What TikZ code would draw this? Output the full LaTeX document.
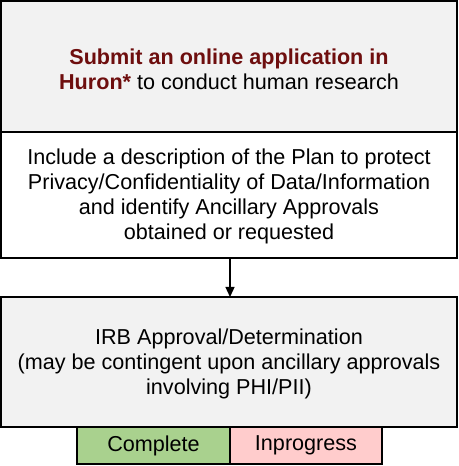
\documentclass[tikz,border=0pt]{standalone}
\usepackage{fontspec}
\setmainfont{Liberation Sans}
\usetikzlibrary{arrows.meta}
\definecolor{boxgray}{HTML}{F2F2F2}
\definecolor{darkred}{HTML}{6E0E0E}
\definecolor{okgreen}{HTML}{A9D18E}
\definecolor{wippink}{HTML}{FFCCCC}
\tikzset{
  x=1pt,y=1pt,
  panel/.style={draw=black,line width=1.2pt,inner sep=0pt},
  txt/.style={align=center,font=\fontsize{21.6}{24.8}\selectfont,inner sep=0pt},
  arr/.style={-{Triangle[length=10pt,width=9pt]},line width=1.3pt}
}
\begin{document}
\begin{tikzpicture}
\useasboundingbox (0,0) rectangle (458,466);
% boxes (y = 466 - pixel y)
\draw[panel,fill=boxgray] (1,465) rectangle (457,334);
\draw[panel,fill=white] (1,334) rectangle (457,208);
\draw[panel,fill=boxgray] (1,169) rectangle (457,39);
\draw[panel,fill=okgreen] (77,39) rectangle (230,2);
\draw[panel,fill=wippink] (230,39) rectangle (382,2);
\coordinate (b2bot) at (230,208);
\coordinate (b3top) at (230,169);
\node[txt] (t1) at (229,396.5) {\textbf{\color{darkred}Submit an online application in}\\\textbf{\color{darkred}Huron*} to conduct human research};
\node[txt] (t2) at (229,269.5) {Include a description of the Plan to protect\\Privacy/Confidentiality of Data/Information\\and identify Ancillary Approvals\\obtained or requested};
\node[txt] (t3) at (229,102) {IRB Approval/Determination\\(may be contingent upon ancillary approvals\\involving PHI/PII)};
\node[txt] (c) at (153.5,20.5) {Complete};
\node[txt] (p) at (306,20.5) {Inprogress};
\draw[arr] (b2bot) -- (b3top);
\end{tikzpicture}
\end{document}
